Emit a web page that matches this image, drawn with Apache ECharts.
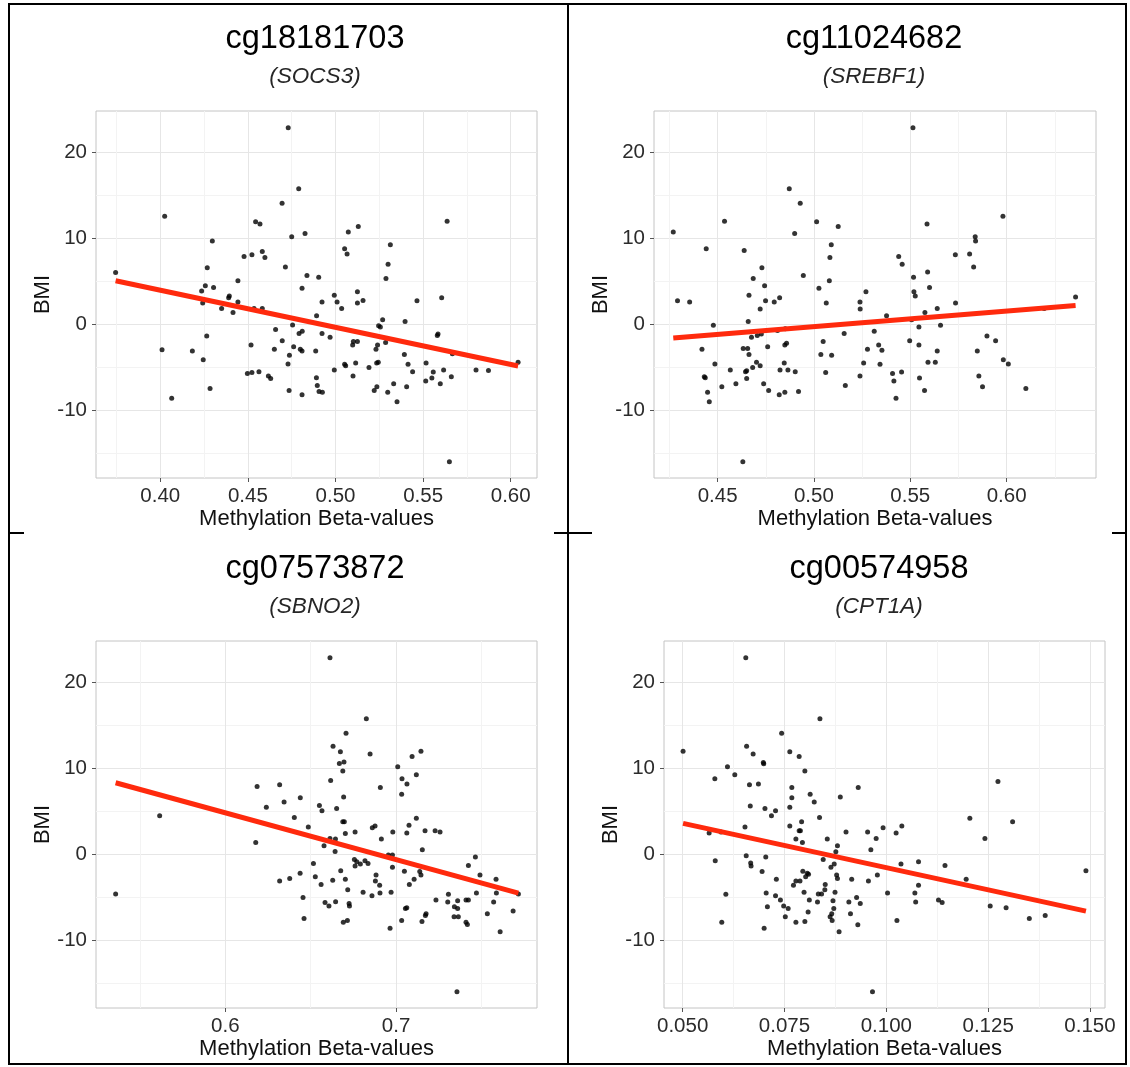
<!DOCTYPE html>
<html>
<head>
<meta charset="utf-8">
<script src="https://cdn.jsdelivr.net/npm/echarts@6/dist/echarts.min.js"></script>
<style>
html, body { margin: 0; padding: 0; background: #fff; }
#chart { width: 1130px; height: 1067px; }
</style>
</head>
<body>
<div id="chart"></div>
<script>
// panel labels
var probes = ['cg18181703', 'cg11024682', 'cg07573872', 'cg00574958'];
var genes = ['(SOCS3)', '(SREBF1)', '(SBNO2)', '(CPT1A)'];
var xTitle = 'Methylation Beta-values';
var yTitle = 'BMI';

// tick values
var yTicks = [-10, 0, 10, 20];
var yMinor = [-15, -5, 5, 15];
var xTicks1 = [0.40, 0.45, 0.50, 0.55, 0.60];
var xMinor1 = [0.375, 0.425, 0.475, 0.525, 0.575];
var xTicks2 = [0.45, 0.50, 0.55, 0.60];
var xMinor2 = [0.425, 0.475, 0.525, 0.575, 0.625];
var xTicks3 = [0.6, 0.7];
var xMinor3 = [0.55, 0.65, 0.75];
var xTicks4 = [0.050, 0.075, 0.100, 0.125, 0.150];
var xMinor4 = [0.0625, 0.0875, 0.1125, 0.1375];

// cg18181703 (SOCS3)
var beta1 = [0.3745,0.4025,0.473,0.479,0.4695,0.4544,0.4569,0.5073,0.513,0.5637,
  0.475,0.4826,0.4297,0.5313,0.5052,0.5066,0.4582,0.4597,0.4523,0.4478,
  0.53,0.4714,0.4268,0.5288,0.4837,0.4904,0.4443,0.4257,0.4236,0.4304,
  0.4809,0.5125,0.4993,0.5606,0.4394,0.439,0.5465,0.5157,0.5009,0.4923,
  0.5125,0.4242,0.4443,0.435,0.4415,0.4535,0.4582,0.5035,0.4892,0.5269,
  0.5397,0.4755,0.5246,0.5256,0.4658,0.481,0.4792,0.4923,0.4969,0.5585,
  0.5581,0.4265,0.4696,0.4518,0.5102,0.5125,0.5098,0.524,0.5286,0.4761,
  0.4651,0.4799,0.4809,0.4887,0.5231,0.5393,0.5667,0.401,0.4183,0.4737,
  0.4245,0.4729,0.5052,0.5058,0.5115,0.5235,0.5244,0.5414,0.5517,0.6042,
  0.5191,0.4993,0.544,0.5558,0.5617,0.5802,0.5873,0.4497,0.4523,0.4563,
  0.4617,0.463,0.4891,0.51,0.5515,0.555,0.5661,0.5598,0.4896,0.5332,
  0.5406,0.4284,0.4735,0.4906,0.4925,0.5221,0.5236,0.5298,0.4809,0.5351,
  0.4065,0.565];
var bmi1 = [6.05,12.6,22.9,15.8,14.1,11.95,11.7,10.75,11.4,12.0,
  10.2,10.6,9.7,9.27,8.8,8.2,8.5,7.8,8.1,7.9,
  7.0,6.7,6.6,5.35,5.7,5.5,5.1,4.5,3.9,4.3,
  4.2,3.8,3.4,3.1,3.3,3.1,2.75,2.8,2.6,2.6,
  2.5,2.5,2.6,1.86,1.4,1.86,1.86,1.86,1.0,0.54,
  0.35,-0.08,-0.16,-0.3,-0.6,-0.8,-1.05,-1.05,-1.5,-1.1,
  -1.3,-1.36,-1.9,-2.4,-2.0,-2.0,-2.4,-2.4,-2.1,-2.6,
  -2.9,-2.9,-3.1,-3.1,-2.9,-3.5,-3.4,-2.95,-3.1,-3.6,
  -4.1,-4.6,-4.65,-4.8,-4.5,-4.5,-4.4,-4.65,-4.5,-4.4,
  -5.0,-5.3,-5.5,-5.55,-5.3,-5.3,-5.35,-5.7,-5.6,-5.5,
  -6.0,-6.3,-6.2,-6.0,-6.6,-6.25,-6.1,-6.9,-7.1,-6.9,
  -7.25,-7.45,-7.7,-7.8,-7.9,-7.7,-7.25,-7.9,-8.2,-9.0,
  -8.6,-16.0];

// cg11024682 (SREBF1)
var beta2 = [0.427,0.4292,0.4355,0.4536,0.4441,0.4478,0.4419,0.4431,0.4436,0.4448,
  0.4457,0.4486,0.4522,0.4566,0.4595,0.4631,0.4638,0.4663,0.4685,0.473,
  0.4744,0.4749,0.4721,0.4659,0.4676,0.4706,0.4727,0.4633,0.4656,0.4663,
  0.4702,0.4721,0.4682,0.4651,0.4645,0.4651,0.4739,0.4765,0.476,0.4794,
  0.4822,0.4811,0.4851,0.4849,0.4858,0.4846,0.4824,0.4865,0.4903,0.482,
  0.4849,0.492,0.4872,0.4929,0.49,0.4945,0.5014,0.5026,0.5064,0.508,
  0.5083,0.509,0.5126,0.5048,0.5036,0.5092,0.5061,0.5157,0.5163,0.5239,
  0.524,0.527,0.5313,0.5278,0.5258,0.5239,0.5377,0.5336,0.5353,0.5343,
  0.5408,0.5415,0.5455,0.5426,0.544,0.5458,0.5514,0.5517,0.5519,0.5526,
  0.5507,0.5497,0.5545,0.5545,0.5576,0.5587,0.559,0.56,0.564,0.5657,
  0.564,0.5592,0.563,0.5548,0.5574,0.5734,0.5735,0.5808,0.5837,0.5839,
  0.5829,0.5848,0.5856,0.5875,0.5898,0.5943,0.5981,0.5983,0.6009,0.61,
  0.6195,0.6358];
var bmi2 = [10.75,2.75,2.6,12.0,8.8,-0.1,-2.9,-6.1,-6.2,-7.9,
  -9.0,-4.6,-7.25,-5.3,-6.9,-16.0,8.6,3.4,5.35,6.6,
  4.5,2.75,1.8,0.35,-1.5,-1.3,-1.1,-2.8,-2.8,-3.5,
  -4.4,-4.8,-5.0,-5.4,-5.5,-6.3,-6.9,-7.7,-2.6,2.6,
  3.1,-0.7,-0.5,-2.4,-2.2,-4.5,-5.3,-5.3,-5.5,-8.2,
  -7.9,-7.8,15.8,14.1,10.6,5.7,11.95,4.2,2.5,5.1,
  7.8,9.27,11.4,-2.0,-3.5,-3.6,-5.6,-1.05,-7.1,2.6,
  1.8,3.8,-0.8,-2.9,-4.5,-6.0,1.0,-2.4,-3.0,-4.65,
  -5.7,-6.6,-5.55,-8.6,7.9,7.0,22.9,5.5,3.8,3.3,
  0.54,-1.9,-0.3,-2.4,1.4,11.7,6.1,4.3,1.86,-0.1,
  -3.1,-4.4,-4.4,-6.25,-7.7,8.1,2.5,8.2,10.2,9.7,
  6.7,-3.1,-6.0,-7.25,-1.36,-1.9,12.6,-4.1,-4.6,-7.45,
  1.86,3.2];

// cg07573872 (SBNO2)
var beta3 = [0.5357,0.5615,0.6178,0.6186,0.624,0.6318,0.6344,0.6318,0.6377,0.6404,
  0.6439,0.6438,0.6455,0.6461,0.6486,0.6516,0.6527,0.6551,0.6566,0.6561,
  0.6578,0.6584,0.6607,0.6613,0.6617,0.6631,0.6629,0.6646,0.6643,0.6645,
  0.6613,0.6652,0.6674,0.6668,0.6695,0.6688,0.6693,0.6688,0.6697,0.6703,
  0.6707,0.6676,0.6703,0.6717,0.6725,0.6727,0.6691,0.6715,0.676,0.6756,
  0.677,0.676,0.6791,0.6818,0.6836,0.6807,0.6826,0.6848,0.6861,0.6877,
  0.6914,0.6908,0.6883,0.6879,0.6904,0.6859,0.6906,0.6955,0.6979,0.6979,
  0.6981,0.6971,0.6965,0.701,0.7035,0.7064,0.7033,0.7094,0.7146,0.7119,
  0.7119,0.7076,0.7063,0.717,0.7229,0.7258,0.7154,0.7049,0.7078,0.7106,
  0.7139,0.7146,0.7055,0.7063,0.7033,0.7152,0.7176,0.7172,0.7234,0.7303,
  0.7307,0.7361,0.7342,0.7361,0.734,0.7365,0.7357,0.741,0.7418,0.741,
  0.7424,0.7424,0.7465,0.7471,0.7492,0.7535,0.7572,0.7586,0.7588,0.761,
  0.7686,0.7717];
var bmi3 = [-4.6,4.5,1.4,7.9,5.5,8.1,6.1,-3.1,-2.8,4.3,
  6.6,-2.2,-5.0,-7.45,3.2,-1.05,-2.6,5.7,5.1,-3.5,
  1.0,-5.6,-6.0,22.9,8.6,12.6,-3.0,-5.5,0.35,1.8,
  1.86,5.35,11.95,10.6,10.75,9.7,6.7,3.8,3.8,2.45,
  14.1,-1.9,-2.9,-4.1,-5.7,-6.0,-7.9,-7.7,2.6,-0.6,
  -0.85,-1.36,-1.1,-0.75,-1.05,-4.4,15.8,11.7,3.1,3.3,
  1.8,7.8,-2.4,-3.1,-3.6,-4.8,-4.5,-0.08,-0.08,-1.5,
  2.6,-4.4,-8.6,10.2,8.8,8.2,7.0,11.4,12.0,9.27,
  4.2,3.4,2.5,2.75,2.75,2.6,0.54,-1.95,-3.5,-2.9,
  -2.0,-2.4,-6.3,-6.2,-7.7,-7.8,-6.9,-7.1,-5.3,-5.55,
  -4.65,-5.4,-6.1,-6.3,-7.25,-7.25,-16.0,-7.9,-8.15,-5.3,
  -5.3,-1.3,-0.3,-4.5,-2.4,-6.9,-5.55,-2.9,-4.5,-9.0,
  -6.6,-4.6];

// cg00574958 (CPT1A)
var beta4 = [0.0501,0.0655,0.0837,0.0743,0.0657,0.0673,0.0698,0.0699,0.0763,0.0786,
  0.061,0.0628,0.0579,0.0664,0.0686,0.08,0.0768,0.0768,0.0813,0.0823,
  0.0931,0.0887,0.0666,0.0702,0.0728,0.0718,0.0763,0.0836,0.0792,0.0763,
  0.0786,0.0789,0.0653,0.0565,0.0594,0.0778,0.0794,0.0855,0.0901,0.0954,
  0.0992,0.0975,0.1024,0.1038,0.1205,0.1242,0.1274,0.131,0.088,0.0876,
  0.0962,0.0656,0.0704,0.058,0.0667,0.0668,0.0845,0.0872,0.0864,0.1036,
  0.1079,0.1144,0.0695,0.0795,0.0806,0.0809,0.0802,0.0778,0.0788,0.0772,
  0.073,0.0878,0.088,0.0915,0.0956,0.0978,0.1079,0.1196,0.149,0.0606,
  0.0705,0.0728,0.074,0.0798,0.0811,0.0833,0.0841,0.085,0.0849,0.0874,
  0.0869,0.0831,0.0908,0.0927,0.0936,0.1003,0.107,0.1072,0.1128,0.1137,
  0.0708,0.0748,0.0759,0.0752,0.0808,0.0871,0.0866,0.0862,0.0867,0.0912,
  0.093,0.0884,0.08,0.0778,0.07,0.0596,0.1026,0.1255,0.1294,0.1351,
  0.139,0.0966];
var bmi4 = [12.0,22.9,15.8,14.1,12.6,11.7,10.7,10.55,11.95,11.4,
  10.2,9.27,8.8,8.1,8.2,9.7,7.8,6.6,7.0,6.1,
  7.8,6.7,5.65,5.35,5.1,4.5,5.5,4.3,3.8,3.3,
  2.75,2.75,3.2,2.5,2.6,1.8,1.4,1.8,2.6,2.6,
  3.1,1.86,2.5,3.3,4.2,1.86,8.5,3.8,1.0,0.3,
  0.54,-0.16,-0.3,-0.74,-1.0,-1.36,-0.6,-1.1,-1.5,-1.1,
  -0.85,-1.3,-2.0,-1.95,-2.2,-2.3,-2.6,-3.1,-3.1,-3.6,
  -2.9,-2.4,-2.8,-2.9,-3.1,-2.4,-3.6,-2.9,-1.9,-4.65,
  -4.5,-4.8,-5.3,-4.4,-5.3,-4.6,-4.6,-3.5,-4.1,-4.4,
  -5.4,-5.55,-5.55,-5.0,-5.7,-4.5,-4.5,-5.55,-5.3,-5.6,
  -6.1,-6.0,-6.3,-7.25,-6.7,-6.3,-6.9,-7.25,-7.7,-6.9,
  -8.2,-9.0,-7.8,-7.9,-8.6,-7.9,-7.7,-6.0,-6.2,-7.45,
  -7.1,-16.0];

// fitted lines (end points)
var fitX1 = [0.3745, 0.6042], fitY1 = [5.08, -4.84];
var fitX2 = [0.4270, 0.6358], fitY2 = [-1.59, 2.21];
var fitX3 = [0.5357, 0.7717], fitY3 = [8.35, -4.50];
var fitX4 = [0.0501, 0.1490], fitY4 = [3.61, -6.60];

var FONT = '"Liberation Sans", Arial, Helvetica, sans-serif';

var panels = [
    { beta: beta1, bmi: bmi1, fx: fitX1, fy: fitY1, ticks: xTicks1, minor: xMinor1, dec: 2,
      grid: { left: 96, top: 111, width: 441, height: 367 }, xr: [0.3633, 0.6150], cx: 315 },
    { beta: beta2, bmi: bmi2, fx: fitX2, fy: fitY2, ticks: xTicks2, minor: xMinor2, dec: 2,
      grid: { left: 654, top: 111, width: 442, height: 367 }, xr: [0.4170, 0.6464], cx: 874 },
    { beta: beta3, bmi: bmi3, fx: fitX3, fy: fitY3, ticks: xTicks3, minor: xMinor3, dec: 1,
      grid: { left: 96, top: 641, width: 441, height: 367 }, xr: [0.5242, 0.7826], cx: 315 },
    { beta: beta4, bmi: bmi4, fx: fitX4, fy: fitY4, ticks: xTicks4, minor: xMinor4, dec: 3,
      grid: { left: 664, top: 641, width: 441, height: 367 }, xr: [0.04542, 0.15368], cx: 879 }
];
var yRange = [-17.88, 24.85];

var grids = [], xAxes = [], yAxes = [], series = [], titles = [];

function zip(a, b) {
    var out = [];
    for (var i = 0; i < a.length; i++) out.push([a[i], b[i]]);
    return out;
}

// minor grid axes first so the major lines sit on top
panels.forEach(function (p, i) {
    xAxes.push({
        type: 'value', gridIndex: i, position: 'bottom', min: p.xr[0], max: p.xr[1],
        axisLine: { show: false, onZero: false }, axisLabel: { show: false },
        axisTick: { show: false, customValues: p.minor },
        splitLine: { show: true, lineStyle: { color: '#f3f3f3', width: 1 } }
    });
    yAxes.push({
        type: 'value', gridIndex: i, position: 'left', min: yRange[0], max: yRange[1],
        axisLine: { show: false, onZero: false }, axisLabel: { show: false },
        axisTick: { show: false, customValues: yMinor },
        splitLine: { show: true, lineStyle: { color: '#f3f3f3', width: 1 } }
    });
});

panels.forEach(function (p, i) {
    var top = p.grid.top;
    grids.push({
        left: p.grid.left, top: p.grid.top, width: p.grid.width, height: p.grid.height,
        show: true, borderColor: '#c4c4c4', borderWidth: 1, backgroundColor: 'transparent'
    });
    xAxes.push({
        type: 'value', gridIndex: i, position: 'bottom', min: p.xr[0], max: p.xr[1],
        axisLine: { show: false, onZero: false },
        axisTick: { show: true, length: 4, lineStyle: { color: '#555' }, customValues: p.ticks },
        axisLabel: {
            customValues: p.ticks, margin: 8, color: '#2b2b2b', fontSize: 20.5, fontFamily: FONT,
            formatter: (function (d) { return function (v) { return v.toFixed(d); }; })(p.dec)
        },
        splitLine: { show: true, lineStyle: { color: '#e6e6e6', width: 1 } },
        name: xTitle, nameLocation: 'middle', nameGap: 25,
        nameTextStyle: { color: '#111', fontSize: 22, fontFamily: FONT }
    });
    yAxes.push({
        type: 'value', gridIndex: i, position: 'left', min: yRange[0], max: yRange[1],
        axisLine: { show: false, onZero: false },
        axisTick: { show: true, length: 4, lineStyle: { color: '#555' }, customValues: yTicks },
        axisLabel: { customValues: yTicks, margin: 9, color: '#2b2b2b', fontSize: 20.5, fontFamily: FONT },
        splitLine: { show: true, lineStyle: { color: '#e6e6e6', width: 1 } },
        name: yTitle, nameLocation: 'middle', nameGap: 40,
        nameTextStyle: { color: '#111', fontSize: 22, fontFamily: FONT }
    });
    series.push({
        type: 'scatter', xAxisIndex: 4 + i, yAxisIndex: 4 + i,
        data: zip(p.beta, p.bmi), symbolSize: 5,
        itemStyle: { color: '#000' }, silent: true, z: 3
    });
    series.push({
        type: 'line', xAxisIndex: 4 + i, yAxisIndex: 4 + i,
        data: zip(p.fx, p.fy), showSymbol: false, silent: true, z: 4,
        lineStyle: { color: '#ff2a0d', width: 5 }
    });
    titles.push({
        text: probes[i], subtext: genes[i],
        left: p.cx, top: top - 88, textAlign: 'center', padding: 0, itemGap: 9,
        textStyle: { fontSize: 32.5, fontWeight: 'normal', color: '#000', fontFamily: FONT },
        subtextStyle: { fontSize: 22.5, fontStyle: 'italic', color: '#262626', fontFamily: FONT }
    });
});

var chart = echarts.init(document.getElementById('chart'));
chart.setOption({
    backgroundColor: '#fff',
    animation: false,
    title: titles,
    grid: grids,
    xAxis: xAxes,
    yAxis: yAxes,
    series: series,
    graphic: [
        { type: 'rect', shape: { x: 9, y: 4, width: 1117, height: 1060 }, style: { fill: 'none', stroke: '#000', lineWidth: 2 } },
        { type: 'line', shape: { x1: 568, y1: 4, x2: 568, y2: 1064 }, style: { stroke: '#000', lineWidth: 2 } },
        { type: 'line', shape: { x1: 9, y1: 533, x2: 24, y2: 533 }, style: { stroke: '#000', lineWidth: 2 } },
        { type: 'line', shape: { x1: 554, y1: 533, x2: 592, y2: 533 }, style: { stroke: '#000', lineWidth: 2 } },
        { type: 'line', shape: { x1: 1112, y1: 533, x2: 1126, y2: 533 }, style: { stroke: '#000', lineWidth: 2 } }
    ]
});
</script>
</body>
</html>
